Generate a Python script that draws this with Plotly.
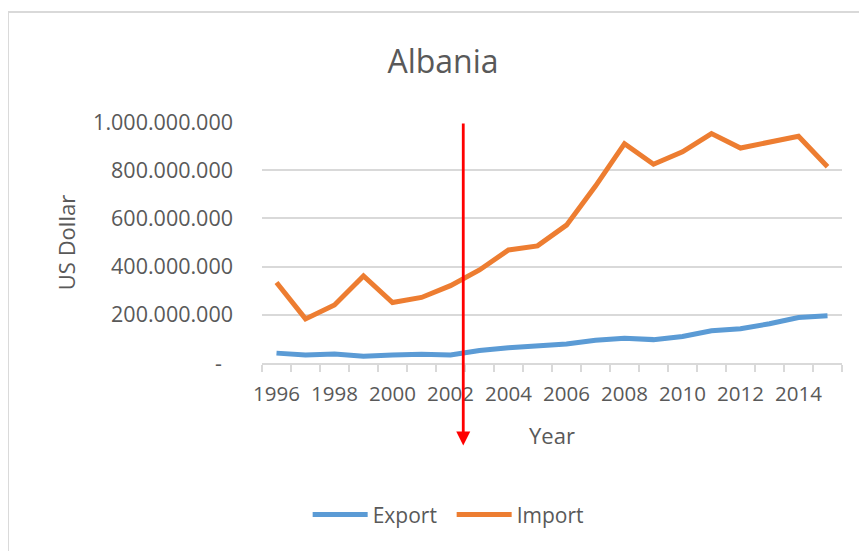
import plotly.graph_objects as go

years = list(range(1996, 2016))
export_usd = [41e6, 33e6, 37e6, 28e6, 33e6, 36e6, 33e6, 52e6, 63e6, 69e6,
              79e6, 94e6, 103e6, 97e6, 110e6, 134e6, 142e6, 163e6, 189e6, 196e6]
import_usd = [334e6, 183e6, 241e6, 361e6, 251e6, 272e6, 321e6, 386e6, 469e6, 486e6,
              572e6, 734e6, 910e6, 825e6, 876e6, 952e6, 892e6, 917e6, 941e6, 814e6]

y_tickvals = [0, 200e6, 400e6, 600e6, 800e6, 1000e6]
y_ticktext = ["-\u00a0\u00a0", "200.000.000", "400.000.000", "600.000.000",
              "800.000.000", "1.000.000.000"]
x_tickvals = list(range(1996, 2016, 2))
x_ticktext = [str(v) for v in x_tickvals]

arrow_x = 2002.44          # position of the red marker line (year axis)
arrow_top = 1000e6
arrow_tip = -342e6

FONT = "Open Sans"
GREY = "#595959"
GRID = "#d9d9d9"

fig = go.Figure()
fig.add_trace(go.Scatter(x=years, y=export_usd, name="Export", mode="lines",
                         line=dict(color="#5B9BD5", width=5)))
fig.add_trace(go.Scatter(x=years, y=import_usd, name="Import", mode="lines",
                         line=dict(color="#ED7D31", width=5)))

fig.update_layout(
    width=867, height=551,
    margin=dict(l=254, r=33, t=114, b=196, autoexpand=False),
    paper_bgcolor="white", plot_bgcolor="white",
    font=dict(family=FONT, color=GREY, size=20),
    hovermode=False,
    title=dict(text="Albania", font=dict(size=32, color=GREY, family=FONT),
               x=435 / 867, xref="container", xanchor="center",
               y=1 - 54 / 551, yref="container", yanchor="middle"),
    showlegend=True,
    legend=dict(orientation="h", x=0.327, xanchor="center", y=-0.63, yanchor="middle",
                font=dict(size=21, color=GREY, family=FONT),
                bgcolor="rgba(0,0,0,0)", itemwidth=55, tracegroupgap=0,
                entrywidth=74, entrywidthmode="pixels"),
)

fig.update_xaxes(
    range=[1995.5, 2015.5], tickmode="array", tickvals=x_tickvals, ticktext=x_ticktext,
    ticks="", showgrid=False, zeroline=False,
    showline=True, linecolor=GRID, linewidth=1.5,
    ticklabelstandoff=12,
    tickfont=dict(size=20.5, color=GREY, family=FONT),
    minor=dict(tickmode="linear", tick0=1995.5, dtick=1, ticks="outside",
               ticklen=7, tickwidth=1.5, tickcolor=GRID, showgrid=False),
    title=dict(text="Year", font=dict(size=22, color=GREY, family=FONT), standoff=22),
)
fig.update_yaxes(
    range=[0, 1000e6], tickmode="array", tickvals=y_tickvals, ticktext=y_ticktext,
    ticks="", showgrid=True, gridcolor=GRID, gridwidth=1.5,
    zeroline=False, showline=False,
    ticklabelstandoff=28,
    tickfont=dict(size=21.5, color=GREY, family=FONT),
    title=dict(text="US Dollar", font=dict(size=22, color=GREY, family=FONT), standoff=11),
)

# outer chart border
fig.add_shape(type="rect", xref="paper", yref="paper",
              x0=-0.438, x1=2.0, y0=-2.0, y1=1.456,
              line=dict(color=GRID, width=2), fillcolor="rgba(0,0,0,0)", layer="below")

# red arrow
fig.add_annotation(x=arrow_x, y=arrow_tip, xref="x", yref="y",
                   ax=arrow_x, ay=arrow_top, axref="x", ayref="y",
                   showarrow=True, arrowhead=2, arrowsize=1, arrowwidth=2.8,
                   arrowcolor="#FF0000", text="")

fig.write_html("out.html")
